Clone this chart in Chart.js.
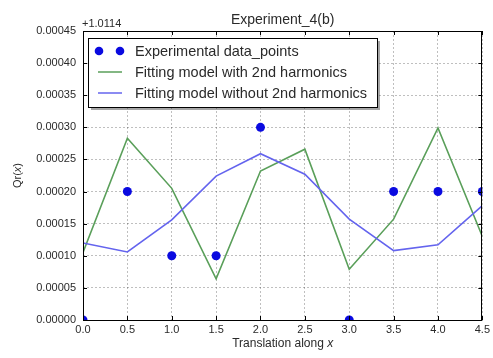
<!DOCTYPE html>
<html>
<head>
<meta charset="utf-8">
<script src="https://cdn.jsdelivr.net/npm/chart.js@4/dist/chart.umd.min.js"></script>
<style>
html,body{margin:0;padding:0;background:#fff;}
#wrap{width:493px;height:358px;position:relative;}
</style>
</head>
<body>
<div id="wrap"><canvas id="c" width="493" height="358"></canvas></div>
<script>
// ---- data (values shown relative to offset +1.0114) ----
const titleText = "Experiment_4(b)";
const offsetText = "+1.0114";
const xAxisLabel = "Translation along ";
const yAxisLabel = "Qr(";
const xTicks = [0.0, 0.5, 1.0, 1.5, 2.0, 2.5, 3.0, 3.5, 4.0, 4.5];
const yTicks = [0.00000, 0.00005, 0.00010, 0.00015, 0.00020, 0.00025, 0.00030, 0.00035, 0.00040, 0.00045];

const expX = [0.0, 0.5, 1.0, 1.5, 2.0, 3.0, 3.5, 4.0, 4.5];
const expY = [0.00000, 0.00020, 0.00010, 0.00010, 0.00030, 0.00000, 0.00020, 0.00020, 0.00020];

const fitX = [0.0, 0.5, 1.0, 1.5, 2.0, 2.5, 3.0, 3.5, 4.0, 4.5];
const fit2Y = [0.000105, 0.000283, 0.000205, 0.000064, 0.000232, 0.000266, 0.000079, 0.000157, 0.000299, 0.000130];
const fit1Y = [0.000120, 0.000106, 0.000156, 0.000224, 0.000259, 0.000227, 0.000157, 0.000108, 0.000117, 0.000178];

const seriesNames = ["Experimental data_points", "Fitting model with 2nd harmonics", "Fitting model without 2nd harmonics"];

const toPts = (xs, ys) => xs.map((x, i) => ({x: x, y: ys[i]}));

const FONT = "'Liberation Sans', Arial, sans-serif";
const TXT = '#2a2a2a';

const extras = {
  id: 'extras',
  afterDraw(chart) {
    const ctx = chart.ctx;
    const a = chart.chartArea;
    const xs = chart.scales.x, ys = chart.scales.y;
    ctx.save();
    // inward ticks on all sides
    ctx.strokeStyle = '#000';
    ctx.lineWidth = 1;
    ctx.beginPath();
    xTicks.forEach(v => {
      const px = Math.round(xs.getPixelForValue(v)) + 0.5;
      ctx.moveTo(px, a.bottom); ctx.lineTo(px, a.bottom - 4);
      ctx.moveTo(px, a.top); ctx.lineTo(px, a.top + 4);
    });
    yTicks.forEach(v => {
      const py = Math.round(ys.getPixelForValue(v)) + 0.5;
      ctx.moveTo(a.left, py); ctx.lineTo(a.left + 4, py);
      ctx.moveTo(a.right, py); ctx.lineTo(a.right - 4, py);
    });
    ctx.stroke();
    // frame
    ctx.strokeRect(Math.round(a.left) + 0.5, Math.round(a.top) + 0.5, Math.round(a.right - a.left) - 1, Math.round(a.bottom - a.top));

    // title
    ctx.fillStyle = TXT;
    ctx.font = '14px ' + FONT;
    ctx.textAlign = 'center';
    ctx.textBaseline = 'alphabetic';
    ctx.fillText(titleText, (a.left + a.right) / 2, 24);
    // offset text
    ctx.font = '11px ' + FONT;
    ctx.textAlign = 'left';
    ctx.fillText(offsetText, a.left - 1, 27);
    // x label
    ctx.font = '12px ' + FONT;
    ctx.textAlign = 'left';
    const w1 = ctx.measureText(xAxisLabel).width;
    ctx.font = 'italic 12px ' + FONT;
    const w2 = ctx.measureText('x').width;
    const cx = (a.left + a.right) / 2 - (w1 + w2) / 2;
    ctx.font = '12px ' + FONT;
    ctx.fillText(xAxisLabel, cx, 347);
    ctx.font = 'italic 12px ' + FONT;
    ctx.fillText('x', cx + w1, 347);
    // y label rotated
    ctx.translate(21, (a.top + a.bottom) / 2);
    ctx.rotate(-Math.PI / 2);
    ctx.font = '11px ' + FONT;
    const t1 = ctx.measureText(yAxisLabel).width;
    ctx.font = 'italic 11px ' + FONT;
    const t2 = ctx.measureText('x').width;
    ctx.font = '11px ' + FONT;
    const t3 = ctx.measureText(')').width;
    let sx = -(t1 + t2 + t3) / 2;
    ctx.fillText(yAxisLabel, sx, 0);
    ctx.font = 'italic 11px ' + FONT;
    ctx.fillText('x', sx + t1, 0);
    ctx.font = '11px ' + FONT;
    ctx.fillText(')', sx + t1 + t2, 0);
    ctx.restore();

    // legend
    ctx.save();
    const lx = a.left + 5, ly = a.top + 7, lw = 289, lh = 69;
    ctx.fillStyle = 'rgba(0,0,0,0.35)';
    ctx.fillRect(lx + 3, ly + 3, lw, lh);
    ctx.fillStyle = '#fff';
    ctx.fillRect(lx, ly, lw, lh);
    ctx.strokeStyle = '#000';
    ctx.lineWidth = 1;
    ctx.strokeRect(lx + 0.5, ly + 0.5, lw, lh);
    const ds = chart.data.datasets;
    ctx.font = '14.5px ' + FONT;
    ctx.textBaseline = 'middle';
    ctx.textAlign = 'left';
    const rows = [ly + 13, ly + 34, ly + 55];
    ds.forEach((d, i) => {
      const y = rows[i];
      if (i === 0) {
        ctx.fillStyle = d.backgroundColor;
        [lx + 11, lx + 32].forEach(px => { ctx.beginPath(); ctx.arc(px, y, 4.3, 0, Math.PI * 2); ctx.fill(); });
      } else {
        ctx.strokeStyle = d.borderColor;
        ctx.lineWidth = 1.5;
        ctx.beginPath(); ctx.moveTo(lx + 10, y); ctx.lineTo(lx + 34, y); ctx.stroke();
      }
      ctx.fillStyle = TXT;
      ctx.fillText(d.label, lx + 47, y + 1);
    });
    ctx.restore();
  }
};

new Chart(document.getElementById('c'), {
  type: 'scatter',
  data: {
    datasets: [
      { label: seriesNames[0], data: toPts(expX, expY), showLine: false,
        pointRadius: 4.5, pointHoverRadius: 4.5, backgroundColor: '#0a0ae0', borderColor: '#0a0ae0', borderWidth: 0, clip: 0, order: 0 },
      { label: seriesNames[1], data: toPts(fitX, fit2Y), showLine: true, pointRadius: 0,
        borderColor: '#5a9f5a', backgroundColor: '#5a9f5a', borderWidth: 1.6, tension: 0, clip: 0, order: 2 },
      { label: seriesNames[2], data: toPts(fitX, fit1Y), showLine: true, pointRadius: 0,
        borderColor: '#6464ee', backgroundColor: '#6464ee', borderWidth: 1.6, tension: 0, clip: 0, order: 1 }
    ]
  },
  options: {
    responsive: false,
    animation: false,
    devicePixelRatio: 1,
    layout: { padding: { left: 0, right: 4, top: 31, bottom: 0 } },
    plugins: { legend: { display: false }, tooltip: { enabled: false }, title: { display: false } },
    scales: {
      x: {
        type: 'linear', min: 0, max: 4.5,
        afterBuildTicks: s => { s.ticks = xTicks.map(v => ({value: v})); },
        afterFit: s => { s.height = 38; },
        ticks: { color: TXT, font: { size: 11, family: FONT }, padding: 3, maxRotation: 0,
                 callback: v => Number(v).toFixed(1) },
        grid: { color: 'rgba(0,0,0,0.25)', lineWidth: 1, tickLength: 0, drawTicks: false },
        border: { display: false, dash: [2, 2] }
      },
      y: {
        type: 'linear', min: 0, max: 0.00045,
        afterBuildTicks: s => { s.ticks = yTicks.map(v => ({value: v})); },
        afterFit: s => { s.width = 83; },
        ticks: { color: TXT, font: { size: 11, family: FONT }, padding: 7,
                 callback: v => Number(v).toFixed(5) },
        grid: { color: 'rgba(0,0,0,0.25)', lineWidth: 1, tickLength: 0, drawTicks: false },
        border: { display: false, dash: [2, 2] }
      }
    }
  },
  plugins: [extras]
});
</script>
</body>
</html>
